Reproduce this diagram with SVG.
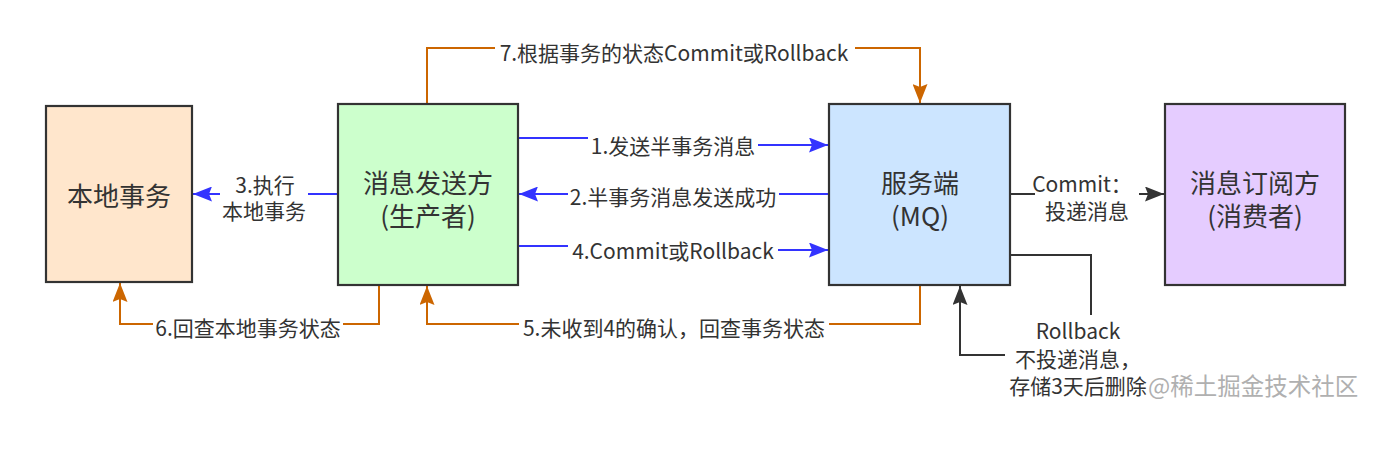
<svg xmlns="http://www.w3.org/2000/svg" width="1400" height="450" viewBox="0 0 1400 450">
<style>
.box{stroke:#333;stroke-width:2.2}
.nt{font-family:"Noto Sans CJK SC","Liberation Sans",sans-serif;font-size:26px;fill:#333;text-anchor:middle;dominant-baseline:central}
.lt{font-family:"Noto Sans CJK SC","Liberation Sans",sans-serif;font-size:21px;fill:#333;text-anchor:middle;dominant-baseline:central}
.blue{fill:none;stroke:#3333ff;stroke-width:2}
.org{fill:none;stroke:#cc6600;stroke-width:2}
.dk{fill:none;stroke:#333;stroke-width:2}
.bg{fill:#fff}
</style>
<defs>
<marker id="aB" markerUnits="userSpaceOnUse" markerWidth="19" markerHeight="15" viewBox="0 0 19 15" refX="19" refY="7.5" orient="auto"><path d="M0,0 L19,7.5 L0,15 L3,7.5 z" fill="#3333ff"/></marker>
<marker id="aO" markerUnits="userSpaceOnUse" markerWidth="19" markerHeight="15" viewBox="0 0 19 15" refX="19" refY="7.5" orient="auto"><path d="M0,0 L19,7.5 L0,15 L3,7.5 z" fill="#cc6600"/></marker>
<marker id="aD" markerUnits="userSpaceOnUse" markerWidth="19" markerHeight="15" viewBox="0 0 19 15" refX="19" refY="7.5" orient="auto"><path d="M0,0 L19,7.5 L0,15 L3,7.5 z" fill="#333"/></marker>
</defs>
<rect width="1400" height="450" fill="#fff"/>

<g id="connectors">
  <!-- 7 -->
  <path class="org" d="M427,104 V48 H920 V103" marker-end="url(#aO)"/>
  <rect class="bg" x="495" y="38" width="360" height="28"/>
  <text class="lt" x="674" y="52">7.根据事务的状态Commit或Rollback</text>
  <!-- 1 -->
  <path class="blue" d="M518,138 H673 V145 H828" marker-end="url(#aB)"/>
  <rect class="bg" x="588" y="130" width="170" height="28"/>
  <text class="lt" x="673" y="145">1.发送半事务消息</text>
  <!-- 2 -->
  <path class="blue" d="M829,194 H519" marker-end="url(#aB)"/>
  <rect class="bg" x="568" y="182" width="211" height="28"/>
  <text class="lt" x="673" y="196">2.半事务消息发送成功</text>
  <!-- 4 -->
  <path class="blue" d="M518,246 H673 V250 H828" marker-end="url(#aB)"/>
  <rect class="bg" x="568" y="236" width="210" height="28"/>
  <text class="lt" x="673" y="250">4.Commit或Rollback</text>
  <!-- 3 -->
  <path class="blue" d="M338,194 H193" marker-end="url(#aB)"/>
  <rect class="bg" x="220" y="170" width="88" height="56"/>
  <text class="lt"><tspan x="265" y="184">3.执行</tspan><tspan x="264" y="210">本地事务</tspan></text>
  <!-- 6 -->
  <path class="org" d="M379,285 V324 H120 V283" marker-end="url(#aO)"/>
  <rect class="bg" x="153" y="313" width="190" height="28"/>
  <text class="lt" x="248" y="327">6.回查本地事务状态</text>
  <!-- 5 -->
  <path class="org" d="M920,285 V324 H427 V286" marker-end="url(#aO)"/>
  <rect class="bg" x="519" y="313" width="310" height="28"/>
  <text class="lt" x="674" y="327">5.未收到4的确认，回查事务状态</text>
  <!-- Commit -->
  <path class="dk" d="M1010,194 H1164" marker-end="url(#aD)"/>
  <rect class="bg" x="1035" y="168" width="104" height="56"/>
  <text class="lt"><tspan x="1082" y="183">Commit：</tspan><tspan x="1087" y="210">投递消息</tspan></text>
  <!-- Rollback -->
  <path class="dk" d="M1010,255 H1091 V355 H960 V286" marker-end="url(#aD)"/>
  <rect class="bg" x="1005" y="315" width="146" height="84"/>
  <text class="lt"><tspan x="1078" y="330">Rollback</tspan><tspan x="1078" y="358">不投递消息，</tspan><tspan x="1078" y="385">存储3天后删除</tspan></text>
  <text x="1148" y="385" style="font-family:'Noto Sans CJK SC',sans-serif;font-size:23.5px;fill:#b0b0b0;dominant-baseline:central">@稀土掘金技术社区</text>
</g>

<g id="local-tx">
  <rect class="box" x="46" y="106" width="146" height="176" fill="#ffe6cc"/>
  <text class="nt" x="119" y="194">本地事务</text>
</g>
<g id="producer">
  <rect class="box" x="338" y="104" width="180" height="181" fill="#ccffcc"/>
  <text class="nt"><tspan x="428" y="181">消息发送方</tspan><tspan x="428" y="214">(生产者)</tspan></text>
</g>
<g id="mq">
  <rect class="box" x="829" y="104" width="181" height="181" fill="#cce5ff"/>
  <text class="nt"><tspan x="920" y="181">服务端</tspan><tspan x="920" y="214">(MQ)</tspan></text>
</g>
<g id="consumer">
  <rect class="box" x="1165" y="104" width="180" height="181" fill="#e5ccff"/>
  <text class="nt"><tspan x="1255" y="181">消息订阅方</tspan><tspan x="1255" y="214">(消费者)</tspan></text>
</g>
</svg>
